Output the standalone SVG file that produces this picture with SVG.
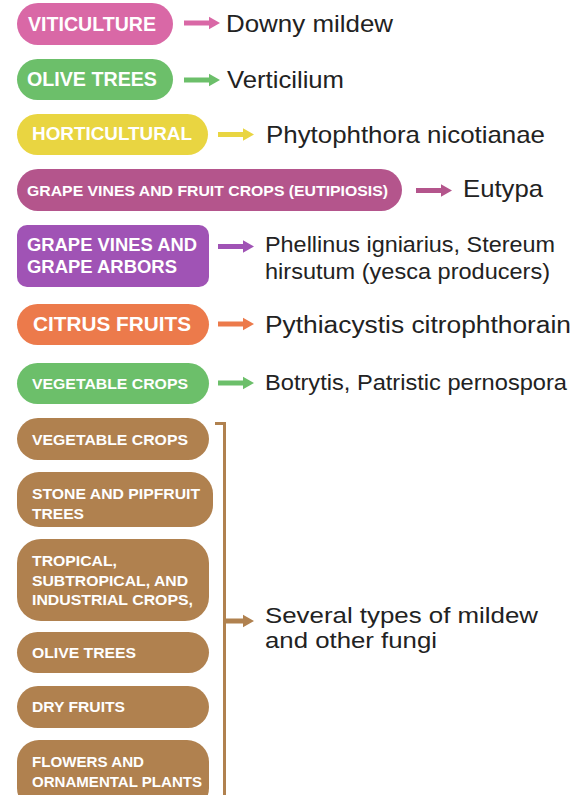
<svg xmlns="http://www.w3.org/2000/svg" xmlns:xlink="http://www.w3.org/1999/xlink" width="574" height="795" viewBox="0 0 574 795">
<style>
.lbl{font-family:"Liberation Sans",Arial,Helvetica,sans-serif;font-weight:bold;fill:#ffffff}
.res{font-family:"Liberation Sans",Arial,Helvetica,sans-serif;fill:#222222}
.pink{fill:#d968a6}.green{fill:#6cbf6a}.yellow{fill:#e9d541}.mag{fill:#b4558c}.purple{fill:#a053b5}.orange{fill:#ec7a4b}.brown{fill:#b0814f}
</style>
<defs>
<path id="arr" d="M0,-2.6 H25 V-6.2 L36,0 L25,6.2 V2.6 H0 Z"/>
</defs>
<rect width="574" height="795" fill="#ffffff"/>

<g id="n-viticulture">
<rect class="pink" x="17" y="3" width="156" height="42" rx="21"/>
<text class="lbl" x="28" y="30.5" font-size="19.5" textLength="128" lengthAdjust="spacingAndGlyphs">VITICULTURE</text>
</g>
<g id="r-downy">
<text class="res" x="226" y="32" font-size="24" textLength="167" lengthAdjust="spacingAndGlyphs">Downy mildew</text>
</g>

<g id="n-olive1">
<rect class="green" x="17" y="59" width="156" height="41" rx="20.5"/>
<text class="lbl" x="27" y="86" font-size="19.5" textLength="130" lengthAdjust="spacingAndGlyphs">OLIVE TREES</text>
</g>
<g id="r-verticilium">
<text class="res" x="227" y="88" font-size="24" textLength="117" lengthAdjust="spacingAndGlyphs">Verticilium</text>
</g>

<g id="n-horticultural">
<rect class="yellow" x="17" y="114" width="191" height="41" rx="20.5"/>
<text class="lbl" x="32" y="140" font-size="19" textLength="160" lengthAdjust="spacingAndGlyphs">HORTICULTURAL</text>
</g>
<g id="r-phytophthora">
<text class="res" x="266" y="143" font-size="24" textLength="279" lengthAdjust="spacingAndGlyphs">Phytophthora nicotianae</text>
</g>

<g id="n-grapefruit">
<rect class="mag" x="17" y="169" width="385" height="42" rx="21"/>
<text class="lbl" x="27" y="196" font-size="15" textLength="361" lengthAdjust="spacingAndGlyphs">GRAPE VINES AND FRUIT CROPS (EUTIPIOSIS)</text>
</g>
<g id="r-eutypa">
<text class="res" x="463" y="197" font-size="24" textLength="80" lengthAdjust="spacingAndGlyphs">Eutypa</text>
</g>

<g id="n-grapearbors">
<rect class="purple" x="17" y="225" width="192" height="62" rx="10"/>
<text class="lbl" x="27" y="251" font-size="18" textLength="170" lengthAdjust="spacingAndGlyphs">GRAPE VINES AND</text>
<text class="lbl" x="27" y="273" font-size="18" textLength="150" lengthAdjust="spacingAndGlyphs">GRAPE ARBORS</text>
</g>
<g id="r-phellinus">
<text class="res" x="265" y="252" font-size="21.5" textLength="290" lengthAdjust="spacingAndGlyphs">Phellinus igniarius, Stereum</text>
<text class="res" x="265" y="279" font-size="21.5" textLength="285" lengthAdjust="spacingAndGlyphs">hirsutum (yesca producers)</text>
</g>

<g id="n-citrus">
<rect class="orange" x="17" y="304" width="192" height="41" rx="20.5"/>
<text class="lbl" x="33" y="331" font-size="19.5" textLength="158" lengthAdjust="spacingAndGlyphs">CITRUS FRUITS</text>
</g>
<g id="r-pythiacystis">
<text class="res" x="265" y="333" font-size="23.5" textLength="306" lengthAdjust="spacingAndGlyphs">Pythiacystis citrophthorain</text>
</g>

<g id="n-vegetable1">
<rect class="green" x="17" y="363" width="192" height="41" rx="20.5"/>
<text class="lbl" x="32" y="388.5" font-size="15" textLength="156" lengthAdjust="spacingAndGlyphs">VEGETABLE CROPS</text>
</g>
<g id="r-botrytis">
<text class="res" x="265" y="390" font-size="21.5" textLength="302" lengthAdjust="spacingAndGlyphs">Botrytis, Patristic pernospora</text>
</g>

<g id="n-vegetable2">
<rect class="brown" x="17" y="418" width="192" height="42" rx="21"/>
<text class="lbl" x="32" y="444.5" font-size="15" textLength="156" lengthAdjust="spacingAndGlyphs">VEGETABLE CROPS</text>
</g>
<g id="n-stone">
<rect class="brown" x="17" y="472" width="196" height="55" rx="22"/>
<text class="lbl" x="32" y="499" font-size="15" textLength="168" lengthAdjust="spacingAndGlyphs">STONE AND PIPFRUIT</text>
<text class="lbl" x="32" y="519" font-size="15" textLength="52" lengthAdjust="spacingAndGlyphs">TREES</text>
</g>
<g id="n-tropical">
<rect class="brown" x="17" y="539" width="192" height="82" rx="24"/>
<text class="lbl" x="32" y="566" font-size="15" textLength="85" lengthAdjust="spacingAndGlyphs">TROPICAL,</text>
<text class="lbl" x="32" y="585.5" font-size="15" textLength="156" lengthAdjust="spacingAndGlyphs">SUBTROPICAL, AND</text>
<text class="lbl" x="32" y="605" font-size="15" textLength="161" lengthAdjust="spacingAndGlyphs">INDUSTRIAL CROPS,</text>
</g>
<g id="n-olive2">
<rect class="brown" x="17" y="632" width="192" height="41" rx="20.5"/>
<text class="lbl" x="32" y="657.5" font-size="15" textLength="104" lengthAdjust="spacingAndGlyphs">OLIVE TREES</text>
</g>
<g id="n-dryfruits">
<rect class="brown" x="17" y="686" width="192" height="42" rx="21"/>
<text class="lbl" x="32" y="712" font-size="15" textLength="93" lengthAdjust="spacingAndGlyphs">DRY FRUITS</text>
</g>
<g id="n-flowers">
<rect class="brown" x="17" y="740" width="192" height="70" rx="22"/>
<text class="lbl" x="32" y="767" font-size="15" textLength="112" lengthAdjust="spacingAndGlyphs">FLOWERS AND</text>
<text class="lbl" x="32" y="787" font-size="15" textLength="170" lengthAdjust="spacingAndGlyphs">ORNAMENTAL PLANTS</text>
</g>
<g id="r-several">
<text class="res" x="265" y="623" font-size="22.5" textLength="273" lengthAdjust="spacingAndGlyphs">Several types of mildew</text>
<text class="res" x="265" y="648" font-size="22.5" textLength="172" lengthAdjust="spacingAndGlyphs">and other fungi</text>
</g>

<g id="connectors">
<use xlink:href="#arr" href="#arr" class="pink" transform="translate(184,23)"/>
<use xlink:href="#arr" href="#arr" class="green" transform="translate(184,80)"/>
<use xlink:href="#arr" href="#arr" class="yellow" transform="translate(218,134.5)"/>
<use xlink:href="#arr" href="#arr" class="mag" transform="translate(416,190.5)"/>
<use xlink:href="#arr" href="#arr" class="purple" transform="translate(218,246.5)"/>
<use xlink:href="#arr" href="#arr" class="orange" transform="translate(218,324)"/>
<use xlink:href="#arr" href="#arr" class="green" transform="translate(218,383)"/>
<path d="M215,423.5 H224.5 V795" fill="none" stroke="#b0814f" stroke-width="3"/>
<path class="brown" d="M224,618.4 H243 V614.8 L254,621 L243,627.2 V623.6 H224 Z"/>
</g>
</svg>
